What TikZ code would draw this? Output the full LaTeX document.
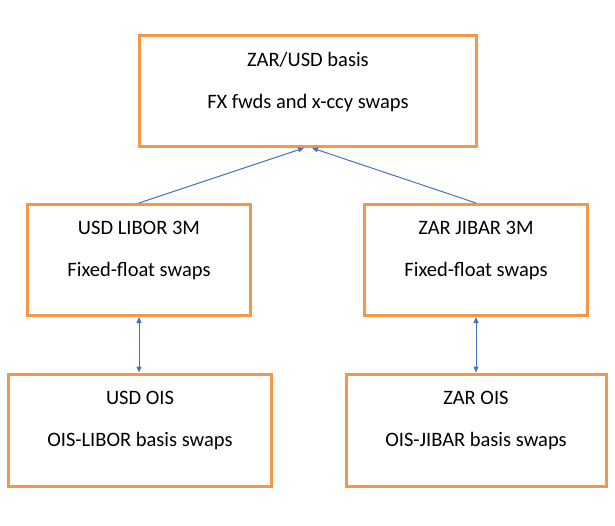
\documentclass[tikz,border=0pt]{standalone}
\usepackage{fontspec}
\setmainfont{Carlito}
\usetikzlibrary{positioning, arrows.meta}
\definecolor{boxline}{RGB}{247,150,70}
\definecolor{link}{RGB}{68,114,196}

\begin{document}
\begin{tikzpicture}[
    x=1pt, y=1pt,
    box/.style={draw=boxline, line width=3pt, rectangle, minimum height=111pt},
    txt/.style={font=\fontsize{20.5}{24}\selectfont, align=center, inner sep=0pt},
    arrow/.style={-{Triangle[length=6pt, width=5pt]}, draw=link, line width=1pt},
    duplex/.style={{Triangle[length=6pt, width=5pt]}-{Triangle[length=6pt, width=5pt]}, draw=link, line width=1pt},
]
\useasboundingbox (0,0) rectangle (615,525);

% boxes (top: cross-currency, middle: swap curves, bottom: OIS)
\node[box, minimum width=337pt] (basis) at (308,434) {};
\node[box, minimum width=223pt] (usdlib) at (139,265) {};
\node[box, minimum width=223pt] (zarjib) at (476,265) {};
\node[box, minimum width=263pt, minimum height=112pt] (usdois) at (140,95) {};
\node[box, minimum width=260pt, minimum height=112pt] (zarois) at (476,95) {};

% box texts
\node[txt, below=18pt of basis.north] (basisT) {ZAR/USD basis\\[18pt]FX fwds and x-ccy swaps};
\node[txt, below=18pt of usdlib.north] (usdlibT) {USD LIBOR 3M\\[18pt]Fixed-float swaps};
\node[txt, below=18pt of zarjib.north] (zarjibT) {ZAR JIBAR 3M\\[18pt]Fixed-float swaps};
\node[txt, below=18pt of usdois.north] (usdoisT) {USD OIS\\[18pt]OIS-LIBOR basis swaps};
\node[txt, below=18pt of zarois.north] (zaroisT) {ZAR OIS\\[18pt]OIS-JIBAR basis swaps};

% links
\draw[arrow] (usdlib.north) -- ([xshift=-4pt]basis.south);
\draw[arrow] (zarjib.north) -- ([xshift=4pt]basis.south);
\draw[duplex] (usdlib.south) -- (usdlib.south |- usdois.north);
\draw[duplex] (zarjib.south) -- (zarjib.south |- zarois.north);

\end{tikzpicture}
\end{document}
